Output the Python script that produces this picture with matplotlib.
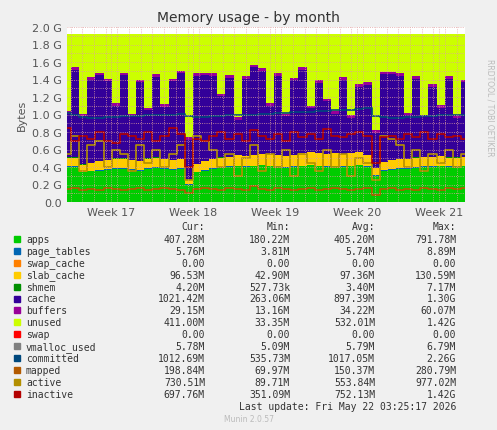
import matplotlib
matplotlib.use("Agg")
import matplotlib.pyplot as plt
import numpy as np

G = 1024**3
days = np.linspace(0, 34, 50)
apps = [0.40,0.40,0.34,0.35,0.36,0.37,0.38,0.38,0.37,0.36,0.38,0.39,0.38,0.37,0.38,0.20,0.34,0.36,0.38,0.39,0.40,0.41,0.40,0.41,0.42,0.41,0.40,0.39,0.40,0.41,0.42,0.41,0.40,0.41,0.40,0.41,0.42,0.40,0.30,0.36,0.37,0.38,0.38,0.39,0.40,0.40,0.41,0.40,0.40,0.41]
page_tables = [0.006]*50
swap_cache = [0.0]*50
slab_cache = [0.10,0.10,0.08,0.09,0.10,0.10,0.11,0.11,0.10,0.10,0.11,0.11,0.10,0.10,0.10,0.05,0.09,0.10,0.10,0.11,0.11,0.12,0.12,0.12,0.12,0.13,0.13,0.13,0.13,0.14,0.14,0.14,0.14,0.14,0.14,0.14,0.14,0.13,0.08,0.09,0.10,0.10,0.10,0.11,0.11,0.11,0.11,0.10,0.10,0.10]
shmem = [0.004]*50
cache = [0.50,1.00,0.55,0.95,0.98,0.90,0.60,0.95,0.50,0.90,0.55,0.92,0.60,0.90,0.98,0.45,1.00,0.98,0.95,0.70,0.90,0.40,0.88,1.00,0.95,0.55,0.90,0.45,0.85,0.95,0.50,0.80,0.60,0.45,0.85,0.40,0.75,0.80,0.40,1.00,0.98,0.95,0.50,0.90,0.45,0.80,0.55,0.90,0.45,0.85]
buffers = [0.03]*50
swap = [0.0]*50
committed = [1.02,1.00,0.97,0.96,0.96,0.97,0.97,0.98,0.98,0.98,0.99,0.99,1.00,1.00,1.01,0.98,0.97,0.97,0.98,0.98,0.99,0.99,1.00,1.00,1.01,1.01,1.02,1.02,1.03,1.03,1.03,1.04,1.04,1.05,1.05,1.05,1.06,1.07,0.98,0.97,0.96,0.96,0.97,0.97,0.98,0.98,0.99,0.99,0.99,1.00]
mapped = [0.15,0.16,0.14,0.15,0.14,0.16,0.15,0.14,0.15,0.16,0.14,0.15,0.16,0.15,0.14,0.10,0.15,0.16,0.15,0.14,0.16,0.15,0.14,0.18,0.15,0.14,0.16,0.15,0.14,0.15,0.16,0.14,0.15,0.16,0.15,0.14,0.15,0.16,0.08,0.15,0.16,0.14,0.15,0.14,0.16,0.15,0.14,0.16,0.15,0.16]
active = [0.55,0.75,0.35,0.65,0.70,0.40,0.60,0.55,0.35,0.65,0.45,0.60,0.40,0.55,0.65,0.25,0.75,0.70,0.60,0.40,0.55,0.30,0.50,0.65,0.35,0.55,0.40,0.60,0.30,0.55,0.45,0.35,0.60,0.40,0.55,0.30,0.50,0.45,0.25,0.75,0.72,0.65,0.40,0.60,0.35,0.55,0.45,0.60,0.40,0.55]
inactive = [0.85,0.70,0.75,0.72,0.80,0.70,0.68,0.78,0.75,0.72,0.80,0.70,0.75,0.85,0.78,0.40,0.72,0.70,0.75,0.80,0.72,0.78,0.70,0.82,0.75,0.72,0.78,0.70,0.80,0.74,0.78,0.72,0.84,0.76,0.74,0.78,0.80,0.75,0.45,0.74,0.76,0.72,0.78,0.74,0.80,0.72,0.78,0.74,0.76,0.72]
total = 1.92

stack_names = ["apps","page_tables","swap_cache","slab_cache","shmem","cache","buffers"]
stack_vals = [apps,page_tables,swap_cache,slab_cache,shmem,cache,buffers]
colors = {"apps":"#00CC00","page_tables":"#0066B3","swap_cache":"#FF8000","slab_cache":"#FFCC00",
          "shmem":"#008F00","cache":"#330099","buffers":"#990099","unused":"#CCFF00","swap":"#FF0000",
          "vmalloc_used":"#808080","committed":"#00487D","mapped":"#B35A00","active":"#B38F00","inactive":"#B30000"}

fig = plt.figure(figsize=(4.97,4.31), dpi=100, facecolor="#F0F0F0")
ax = fig.add_axes([67/497, 1-203/431, 398/497, 175/431], facecolor="white")
base = np.zeros(50)
for n, v in zip(stack_names, stack_vals):
    top = base + np.array(v)
    ax.fill_between(days, base*G, top*G, color=colors[n], lw=0, step="mid")
    base = top
ax.fill_between(days, base*G, total*G, color=colors["unused"], lw=0, step="mid")
for n, v in [("committed",committed),("mapped",mapped),("active",active),("inactive",inactive)]:
    ax.step(days, np.array(v)*G, where="mid", color=colors[n], lw=1.2)
ax.set_xlim(0,34); ax.set_ylim(0, 2.0*G)
yt = np.arange(0, 2.01, 0.2)
ax.set_yticks(yt*G); ax.set_yticklabels([f"{t:.1f} G" if t else "0.0" for t in yt], fontsize=8, color="#555555")
wk = [3.8+7*k for k in range(5)]
ax.set_xticks(wk); ax.set_xticklabels([f"Week {17+k}" for k in range(5)], fontsize=8, color="#555555")
ax.set_xticks(np.arange(0.3,34,1), minor=True)
ax.set_yticks(np.arange(0,2.0,0.1)*G, minor=True)
ax.grid(True, which="both", color="#E0A0A0", ls=":", lw=0.6)
ax.set_axisbelow(False)
ax.tick_params(length=0, which="both")
for s in ax.spines.values(): s.set_visible(False)
ax.set_ylabel("Bytes", fontsize=8, color="#555555")
fig.text(0.5, 1-18/431, "Memory usage - by month", ha="center", va="center", fontsize=10, color="#333333")
fig.text(0.985, 0.75, "RRDTOOL / TOBI OETIKER", rotation=270, fontsize=5.5, color="#BBBBBB", ha="center", va="center")

mono = dict(family="DejaVu Sans Mono", fontsize=7, color="#333333")
colx = [205,290,375,456]
def fy(y): return 1-y/431
for h,x in zip(["Cur:","Min:","Avg:","Max:"],colx):
    fig.text(x/497, fy(227), h, ha="right", va="center", **mono)
rows = [("apps","407.28M","180.22M","405.20M","791.78M"),("page_tables","5.76M","3.81M","5.74M","8.89M"),
 ("swap_cache","0.00","0.00","0.00","0.00"),("slab_cache","96.53M","42.90M","97.36M","130.59M"),
 ("shmem","4.20M","527.73k","3.40M","7.17M"),("cache","1021.42M","263.06M","897.39M","1.30G"),
 ("buffers","29.15M","13.16M","34.22M","60.07M"),("unused","411.00M","33.35M","532.01M","1.42G"),
 ("swap","0.00","0.00","0.00","0.00"),("vmalloc_used","5.78M","5.09M","5.79M","6.79M"),
 ("committed","1012.69M","535.73M","1017.05M","2.26G"),("mapped","198.84M","69.97M","150.37M","280.79M"),
 ("active","730.51M","89.71M","553.84M","977.02M"),("inactive","697.76M","351.09M","752.13M","1.42G")]
for i,r in enumerate(rows):
    y = 240+i*11.9
    fig.patches.append(plt.Rectangle((14/497, fy(y)-3/431), 6/497, 6/431, transform=fig.transFigure, color=colors[r[0]]))
    fig.text(26/497, fy(y), r[0], va="center", **mono)
    for v,x in zip(r[1:],colx): fig.text(x/497, fy(y), v, ha="right", va="center", **mono)
fig.text(456/497, fy(407), "Last update: Fri May 22 03:25:17 2026", ha="right", va="center", **mono)
fig.text(0.5, fy(420), "Munin 2.0.57", ha="center", va="center", fontsize=5.5, color="#BBBBBB")
fig.savefig("out.png", dpi=100, facecolor=fig.get_facecolor())
